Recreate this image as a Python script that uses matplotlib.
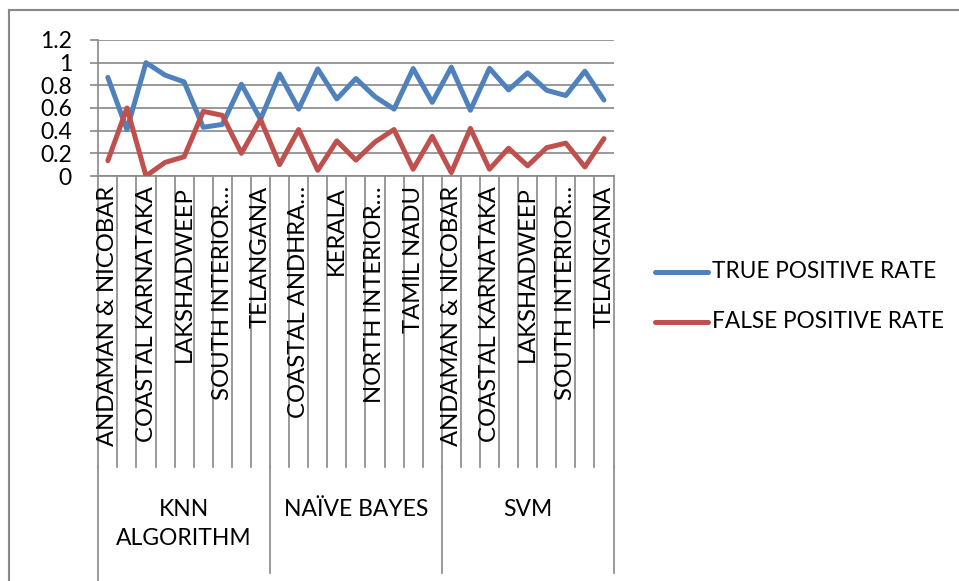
import matplotlib
matplotlib.use("Agg")
import matplotlib.pyplot as plt
from matplotlib.lines import Line2D
from matplotlib.transforms import blended_transform_factory

plt.rcParams['font.family'] = ['Lato', 'DejaVu Sans']

# Classifiers (outer category level) and meteorological subdivisions (inner level)
algorithms = ["KNN\nALGORITHM", "NAÏVE BAYES", "SVM"]
subdivisions = ["ANDAMAN & NICOBAR", "COASTAL ANDHRA…", "COASTAL KARNATAKA",
                "KERALA", "LAKSHADWEEP", "NORTH INTERIOR…", "SOUTH INTERIOR…",
                "TAMIL NADU", "TELANGANA"]

true_positive_rate = [0.87, 0.41, 1.00, 0.89, 0.83, 0.43, 0.455, 0.81, 0.50,
                      0.90, 0.59, 0.945, 0.68, 0.86, 0.70, 0.59, 0.948, 0.65,
                      0.96, 0.58, 0.95, 0.76, 0.91, 0.756, 0.71, 0.925, 0.67]
false_positive_rate = [0.135, 0.60, 0.00, 0.12, 0.17, 0.57, 0.535, 0.20, 0.50,
                       0.10, 0.41, 0.05, 0.31, 0.14, 0.30, 0.41, 0.06, 0.35,
                       0.03, 0.42, 0.06, 0.245, 0.09, 0.25, 0.29, 0.08, 0.33]

series = [("TRUE POSITIVE RATE", true_positive_rate, "#4F81BD"),
          ("FALSE POSITIVE RATE", false_positive_rate, "#C0504D")]
y_ticks = [0, 0.2, 0.4, 0.6, 0.8, 1.0, 1.2]
y_tick_labels = ["0", "0.2", "0.4", "0.6", "0.8", "1", "1.2"]

W, H = 959, 581
GRID = "#888888"
fig = plt.figure(figsize=(W / 100, H / 100), dpi=100)


def fx(px):
    return px / W


def fy(py):
    return 1 - py / H


x_left, x_right, y_top, y_bottom = 98.3, 613.5, 40, 176
ax = fig.add_axes([fx(x_left), fy(y_bottom), fx(x_right) - fx(x_left),
                   (y_bottom - y_top) / H])

labels = [f"{a} | {s}" for a in algorithms for s in subdivisions]
n = len(labels)
xs = [i + 0.5 for i in range(n)]

for name, values, color in series:
    ax.plot(xs, values, color=color, lw=3.6, solid_joinstyle="round",
            solid_capstyle="round", label=name, zorder=3)

ax.set_xlim(0, n)
ax.set_ylim(0, 1.2)
ax.set_yticks(y_ticks)
ax.set_yticklabels(y_tick_labels)
ax.set_xticks([])
ax.yaxis.grid(True, color=GRID, lw=1.2)
ax.set_axisbelow(True)
for side in ("top", "right"):
    ax.spines[side].set_visible(False)
for side in ("left", "bottom"):
    ax.spines[side].set_color(GRID)
    ax.spines[side].set_linewidth(1.2)
ax.tick_params(axis="y", length=6, width=1.2, color=GRID, pad=13,
               labelsize=16.5, labelcolor="black")

# Multi-level category axis below the plot
trans = blended_transform_factory(ax.transData, fig.transFigure)
for k in range(n + 1):
    fig.add_artist(Line2D([k, k], [fy(176), fy(467)], transform=trans,
                          color=GRID, lw=1.2))
n_sub = len(subdivisions)
for g in range(len(algorithms) + 1):
    k = g * n_sub
    bottom = 581 if g == 0 else 573
    fig.add_artist(Line2D([k, k], [fy(467), fy(bottom)], transform=trans,
                          color=GRID, lw=1.2))

for i in range(0, n, 2):
    fig.text(i + 0.5, fy(186), subdivisions[i % n_sub], transform=trans,
             rotation=90, ha="center", va="top", fontsize=17.2)

for g, name in enumerate(algorithms):
    fig.text(g * n_sub + n_sub / 2, fy(499), name, transform=trans,
             ha="center", va="top", fontsize=16.5, multialignment="center",
             linespacing=1.45)

# Legend
for j, (name, values, color) in enumerate(series):
    yy = fy(272 + 50 * j)
    fig.add_artist(Line2D([fx(655), fx(708)], [yy, yy], color=color, lw=3.6,
                          solid_capstyle="round"))
    fig.text(fx(712), yy, name, ha="left", va="center", fontsize=16.3)

# Chart frame
fig.add_artist(Line2D([fx(9), fx(959)], [fy(10), fy(10)], color=GRID, lw=1.5))
fig.add_artist(Line2D([fx(9), fx(9)], [fy(10), fy(581)], color=GRID, lw=1.5))

fig.savefig("out.png", dpi=100)
